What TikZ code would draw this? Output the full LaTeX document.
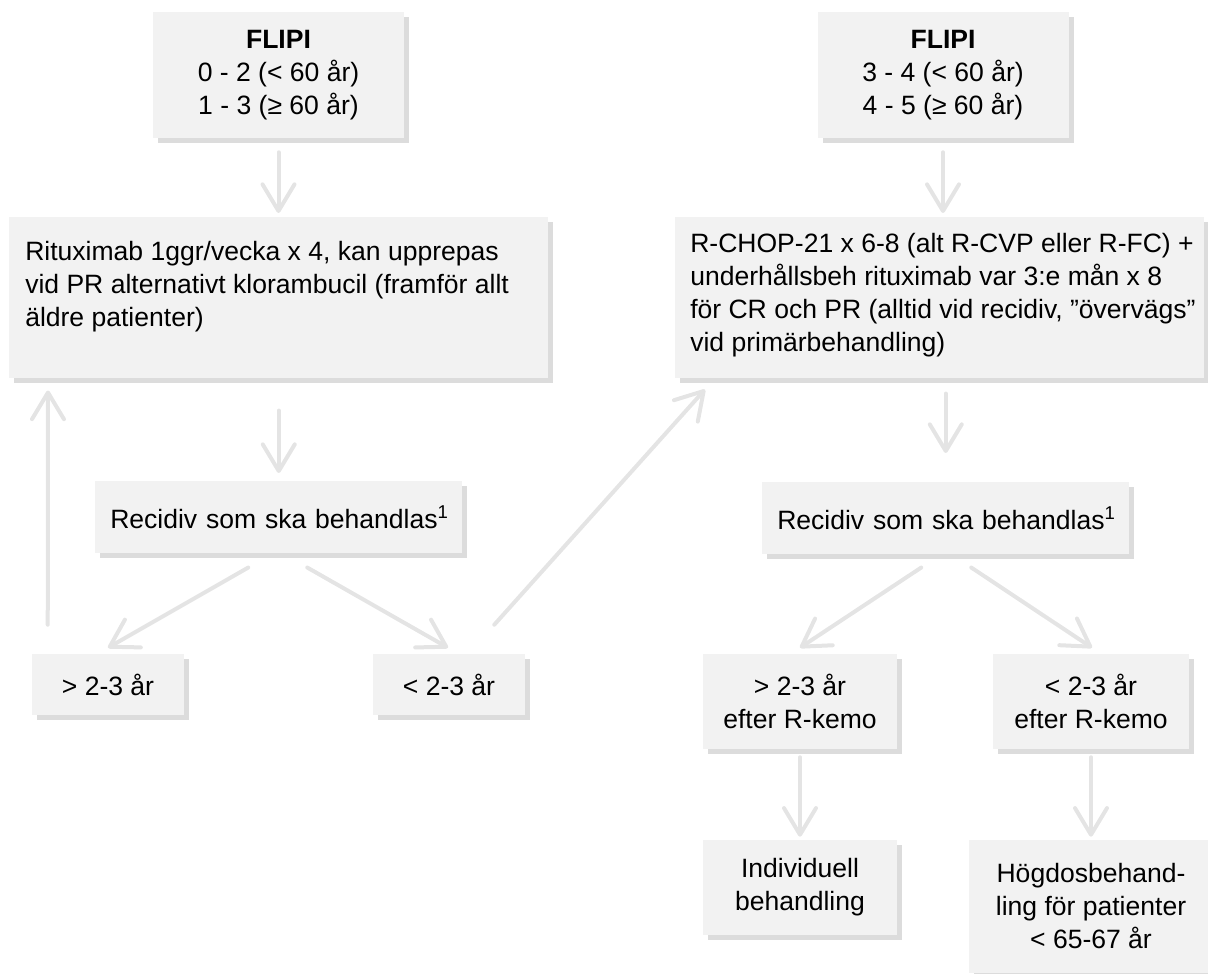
\documentclass[tikz,border=0pt]{standalone}
\usepackage{fontspec}
\setmainfont{Liberation Sans}
\usetikzlibrary{arrows.meta,shadows,calc}
\definecolor{boxc}{HTML}{F2F2F2}
\definecolor{shadc}{HTML}{DCDCDC}
\definecolor{arrc}{HTML}{E4E4E4}
\tikzset{
  box/.style={fill=boxc, draw=none, inner sep=0pt, align=center,
    drop shadow={shadow xshift=3.75pt, shadow yshift=-3.75pt, fill=shadc, opacity=1}},
  txt/.style={font=\fontsize{19.9pt}{24.75pt}\selectfont},
  arr/.style={draw=arrc, line width=3pt, line cap=round,
    -{Straight Barb[length=20pt,width=24pt,round]}},
  recbox/.style={box, txt, text width=275.25pt, align=left, inner xsep=0pt, minimum height=54pt, anchor=north west},
}
\begin{document}
\begin{tikzpicture}[x=0.75pt,y=-0.75pt]
\useasboundingbox (0,0) rectangle (1208,974);
% top boxes
\node[box, txt, minimum width=188.25pt, minimum height=94.5pt] (fl1) at (278.5,75)
  {\textbf{FLIPI}\\0 - 2 (< 60 år)\\1 - 3 (≥ 60 år)};
\node[box, txt, minimum width=188.25pt, minimum height=94.5pt] (fl2) at (943,75)
  {\textbf{FLIPI}\\3 - 4 (< 60 år)\\4 - 5 (≥ 60 år)};
% treatment boxes
\node[box, minimum width=404.25pt, minimum height=120.75pt, anchor=north west] (rit) at (9,217) {};
\node[txt, anchor=north west, inner sep=0pt, align=left] (ritT) at (25,241)
  {Rituximab 1ggr/vecka x 4, kan upprepas\\vid PR alternativt klorambucil (framför allt\\äldre patienter)};
\node[box, minimum width=396.75pt, minimum height=120.75pt, anchor=north west] (rch) at (675,217) {};
\node[txt, anchor=north west, inner sep=0pt, align=left] (rchT) at (690,233)
  {R-CHOP-21 x 6-8 (alt R-CVP eller R-FC) +\\underhållsbeh rituximab var 3:e mån x 8\\för CR och PR (alltid vid recidiv, ”övervägs”\\vid primärbehandling)};
% relapse boxes
\node[recbox] (recL) at (95,481)
  {\hspace*{11.25pt}Recidiv som ska behandlas\textsuperscript{1}};
\node[recbox] (recR) at (762,482)
  {\hspace*{11.25pt}Recidiv som ska behandlas\textsuperscript{1}};
% time boxes
\node[box, txt, minimum width=114pt, minimum height=45.75pt] (gtL) at (108,684.5) {> 2-3 år};
\node[box, txt, minimum width=114pt, minimum height=45.75pt] (ltL) at (449,684.5) {< 2-3 år};
\node[box, txt, minimum width=145.5pt, minimum height=71.25pt] (gtR) at (800,701.5) {> 2-3 år\\efter R-kemo};
\node[box, txt, minimum width=147pt, minimum height=71.25pt] (ltR) at (1091,701.5) {< 2-3 år\\efter R-kemo};
% final boxes
\node[box, txt, minimum width=145.5pt, minimum height=71.25pt] (ind) at (800,887.5) {Individuell\\behandling};
\node[box, txt, minimum width=183pt, minimum height=99.75pt] (hog) at (1091,906.5) {Högdosbehand-\\ling för patienter\\< 65-67 år};
% arrows
\draw[arr, shorten <=10.5pt, shorten >=3pt] (fl1.south) -- (fl1.south |- rit.north);
\draw[arr, shorten <=10.5pt, shorten >=3pt] (fl2.south) -- (fl2.south |- rch.north);
\draw[arr, shorten <=24pt, shorten >=6pt] (rit.south) -- (rit.south |- recL.north);
\draw[arr, shorten <=11.25pt, shorten >=21.75pt] (recR.north |- rch.south) -- (recR.north);
\draw[arr] ($(recL.south)+(-30.5,14)$) -- ($(gtL.north)+(0,-6)$);
\draw[arr] ($(recL.south)+(28.5,14)$) -- ($(ltL.north)+(-1,-6)$);
\draw[arr] ($(recR.south)+(-24.5,13)$) -- ($(gtR.north)+(0,-6)$);
\draw[arr] ($(recR.south)+(25.5,13)$) -- ($(ltR.north)+(1,-6)$);
\draw[arr] ($(gtL.north west)+(16,-29)$) -- ($(rit.south west)+(39,12)$);
\draw[arr] ($(ltL.north east)+(-31,-29)$) -- ($(rch.south west)+(30,11)$);
\draw[arr, shorten <=6pt, shorten >=2.25pt] (gtR) -- (ind);
\draw[arr, shorten <=6pt, shorten >=2.25pt] (ltR) -- (hog);
\end{tikzpicture}
\end{document}
